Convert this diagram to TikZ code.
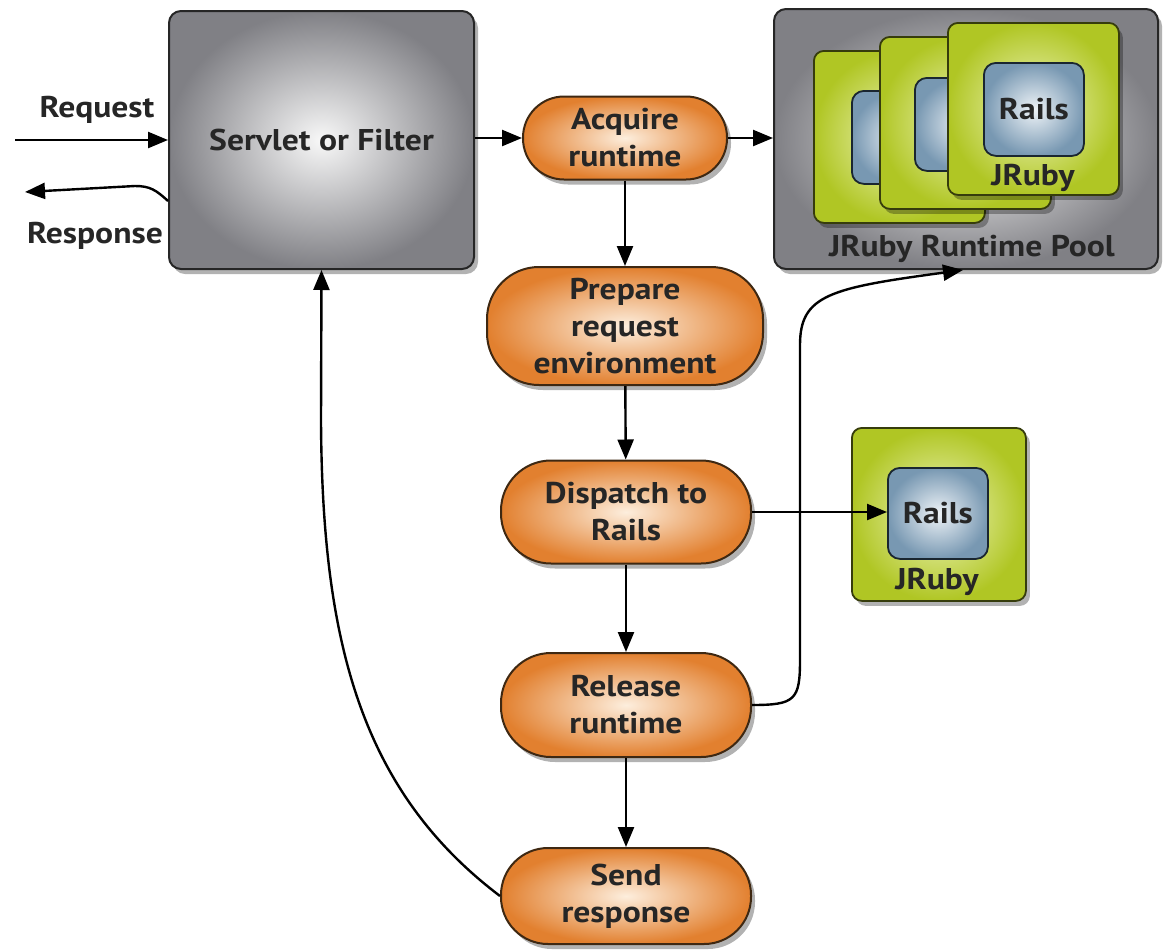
\documentclass[tikz,border=0pt]{standalone}
\usepackage{fontspec}
\setmainfont{PT Sans}[FakeStretch=1.12]
\usetikzlibrary{shadows,arrows.meta,calc}
\definecolor{txt}{HTML}{262626}
\definecolor{grayout}{HTML}{808085}
\definecolor{grayin}{HTML}{F8F8F8}
\definecolor{orout}{HTML}{E2802F}
\definecolor{orin}{HTML}{FDEEDD}
\definecolor{orline}{HTML}{3E2812}
\definecolor{grout}{HTML}{B0C624}
\definecolor{grin}{HTML}{F0F6C0}
\definecolor{grline}{HTML}{363C0C}
\definecolor{blout}{HTML}{7898B2}
\definecolor{blin}{HTML}{EEF3F7}
\definecolor{blline}{HTML}{1A2630}
\begin{document}
\begin{tikzpicture}[x=1pt,y=-1pt,
  every node/.style={font=\fontsize{30}{37}\selectfont\bfseries, text=txt, align=center},
  shad/.style={drop shadow={shadow xshift=4pt,shadow yshift=-5pt,opacity=0.3,fill=black}},
  graybox/.style={draw=black!85, line width=2pt, rounded corners=12pt, inner color=grayin, outer color=grayout, shad, anchor=north west},
  pill/.style={draw=orline, line width=2pt, inner color=orin, outer color=orout, shad, inner sep=2pt},
  greenbox/.style={draw=grline, line width=1.8pt, rounded corners=10pt, inner color=grin, outer color=grout, shad, anchor=north west, minimum width=171pt, minimum height=172pt},
  bluebox/.style={draw=blline, line width=1.8pt, rounded corners=12pt, inner color=blin, outer color=blout, anchor=north west, minimum width=100pt, minimum height=93pt, inner sep=0pt},
  arr/.style={line width=2.4pt, draw=black, -{Triangle[length=20pt,width=16pt]}},
  lbl/.style={inner sep=0pt}
]
\useasboundingbox (0,0) rectangle (1165,951);

% Servlet
\node[graybox, minimum width=305pt, minimum height=258pt] (servlet) at (168,10) {};
\node (servlettxt) at (servlet.center) {Servlet or Filter};

% Pool
\node[graybox, minimum width=384pt, minimum height=260pt] (pool) at (773,8) {};
\node[greenbox] (g3) at (813,50) {};
\node[bluebox] (b3) at (851,90) {};
\node[greenbox] (g2) at (879,36) {};
\node[bluebox] (b2) at (914,77) {};
\node[greenbox] (g1) at (947,22) {};
\node[bluebox] (b1) at (983,62) {Rails};
\node[lbl] (j1) at (1033,178) {JRuby};
\node[lbl] (pooltxt) at (972,249) {JRuby Runtime Pool};

% Single runtime
\node[greenbox, minimum width=174pt, minimum height=173pt] (gs) at (851,427) {};
\node[bluebox, minimum height=91pt] (bs) at (887,467) {Rails};
\node[lbl] (js) at (937,582) {JRuby};

% Process steps
\node[pill, minimum width=204pt, minimum height=83pt, rounded corners=41pt] (acq) at (625,138) {Acquire\\runtime};
\node[pill, minimum width=276pt, minimum height=118pt, rounded corners=52pt] (prep) at (625,326) {Prepare\\request\\environment};
\node[pill, minimum width=250pt, minimum height=103pt, rounded corners=50pt] (disp) at (626,512) {Dispatch to\\Rails};
\node[pill, minimum width=250pt, minimum height=104pt, rounded corners=50pt] (rel) at (626,705) {Release\\runtime};
\node[pill, minimum width=250pt, minimum height=96pt, rounded corners=47pt] (send) at (626,896) {Send\\response};

% Request / Response
\coordinate (reqstart) at (15,140);
\draw[arr] (reqstart) -- (reqstart -| servlet.west);
\node[lbl] (reqtxt) at (97,110) {Request};
\coordinate (respend) at (25,192);
\draw[arr] ([yshift=-61pt]servlet.west) .. controls (156,190) and (150,186) .. (135,186) -- (respend);
\node[lbl] (resptxt) at (95,236) {Response};

% Flow
\draw[arr] (servlet.east |- acq.west) -- (acq.west);
\draw[arr] (acq.east) -- (acq.east -| pool.west);
\draw[arr] (acq) -- (prep);
\draw[arr] (prep) -- (disp);
\draw[arr] (disp) -- (rel);
\draw[arr] (rel) -- (send);
\draw[arr] (disp.east) -- (disp.east -| bs.west);
\draw[arr] (rel.east) .. controls (795,705) and (800,700) .. (800,660) -- (800,345) .. controls (800,295) and (830,288) .. ([xshift=-3pt]pool.south);
\draw[arr] (send.west) .. controls (360,790) and (322,640) .. (321,420) -- (servlet.south);
\end{tikzpicture}
\end{document}
